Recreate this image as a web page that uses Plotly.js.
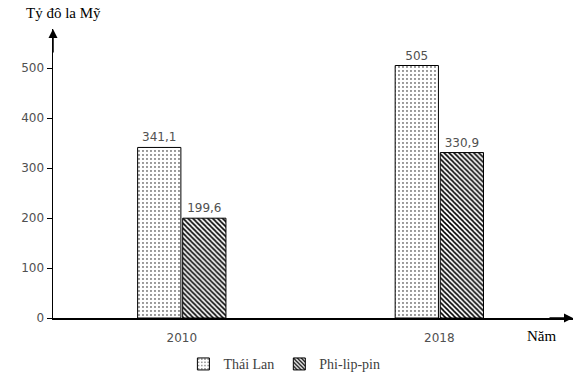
<!DOCTYPE html>
<html>
<head>
<meta charset="utf-8">
<script src="https://cdn.plot.ly/plotly-3.0.1.min.js"></script>
<style>html,body{margin:0;padding:0;background:#fff;}#chart{width:582px;height:380px;}</style>
</head>
<body>
<div id="chart"></div>
<script>
const years = ['2010', '2018'];
const seriesNames = ['Thái Lan', 'Phi-lip-pin'];
const thaiLan = [341.1, 505];
const philippines = [199.6, 330.9];
const yTicks = [0, 100, 200, 300, 400, 500];

function fmt(v) { return String(v).replace('.', ','); }

const sansFont = {family: 'DejaVu Sans, Verdana, sans-serif', size: 12, color: '#505050'};
const serifFont = {family: 'Liberation Serif, Times New Roman, serif', size: 15, color: '#000'};

const traces = [
  {
    type: 'bar', name: seriesNames[0], x: years, y: thaiLan,
    text: thaiLan.map(fmt), textposition: 'outside', cliponaxis: false,
    textfont: sansFont,
    marker: {color: '#fff', line: {color: '#000', width: 1},
      pattern: {shape: '.', fgcolor: '#000', bgcolor: '#fff', size: 4, solidity: 0.1}}
  },
  {
    type: 'bar', name: seriesNames[1], x: years, y: philippines,
    text: philippines.map(fmt), textposition: 'outside', cliponaxis: false,
    textfont: sansFont,
    marker: {color: '#fff', line: {color: '#000', width: 1},
      pattern: {shape: '\\', fgcolor: '#000', bgcolor: '#fff', size: 3.5, solidity: 0.45}}
  }
];

const layout = {
  width: 582, height: 380,
  margin: {l: 53, r: 9, t: 29, b: 62, autoexpand: false},
  paper_bgcolor: '#fff', plot_bgcolor: '#fff',
  barmode: 'group', bargap: 0.65, bargroupgap: 0.04,
  showlegend: true,
  legend: {orientation: 'h', x: 0.445, xanchor: 'center', y: -0.105, yanchor: 'top',
    font: {family: 'Liberation Serif, Times New Roman, serif', size: 14, color: '#404040'},
    itemwidth: 30, traceorder: 'normal', tracegroupgap: 0},
  xaxis: {type: 'category', range: [-0.5, 1.519], showline: true, linecolor: '#000', linewidth: 1.5,
    ticks: '', showgrid: false, zeroline: false, ticklabelstandoff: 8,
    tickfont: sansFont, ticklen: 0},
  yaxis: {range: [0, 578], tickvals: yTicks, ticktext: yTicks.map(String),
    showline: true, linecolor: '#000', linewidth: 1.5,
    ticks: 'outside', ticklen: 5, tickcolor: '#000', tickwidth: 1,
    showgrid: false, zeroline: false, tickfont: sansFont},
  shapes: [
    {type: 'line', xref: 'x', x0: 0.5, x1: 0.5, yref: 'y', ysizemode: 'pixel', yanchor: 0,
     y0: 0, y1: -4, line: {color: '#000', width: 1}}
  ],
  annotations: [
    {xref: 'paper', yref: 'paper', x: 0, y: 1, ax: 0, ay: 25, showarrow: true,
     arrowhead: 2, arrowsize: 1.2, arrowwidth: 1.5, arrowcolor: '#000', text: ''},
    {xref: 'paper', yref: 'paper', x: 1, y: 0, ax: -25, ay: 0, showarrow: true,
     arrowhead: 2, arrowsize: 1.2, arrowwidth: 1.5, arrowcolor: '#000', text: ''},
    {xref: 'paper', yref: 'paper', x: -0.055, y: 1.0, xanchor: 'left', yanchor: 'bottom',
     yshift: 6, showarrow: false, text: 'Tỷ đô la Mỹ', font: serifFont},
    {xref: 'paper', yref: 'paper', x: 0.94, y: 0, xanchor: 'center', yanchor: 'top',
     yshift: -8, showarrow: false, text: 'Năm', font: serifFont}
  ]
};

Plotly.newPlot('chart', traces, layout, {displayModeBar: false, staticPlot: true});
</script>
</body>
</html>
